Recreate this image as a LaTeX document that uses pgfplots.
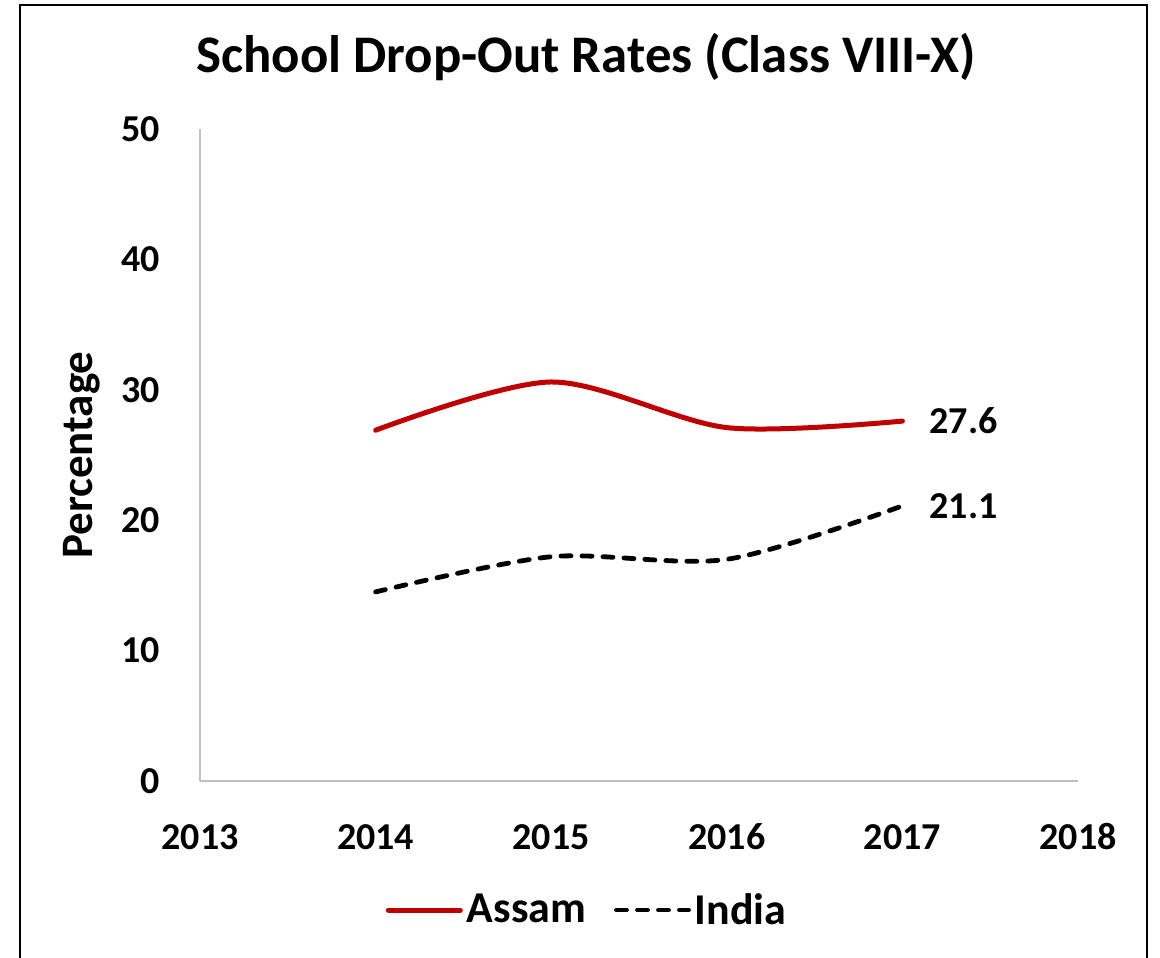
\documentclass[border=0pt]{standalone}
\usepackage{fontspec}
\setmainfont{Carlito}
\usepackage{pgfplots}
\pgfplotsset{compat=1.18}
\definecolor{assam}{HTML}{C00000}
\definecolor{axgray}{HTML}{BFBFBF}
\begin{document}
\begin{tikzpicture}[x=1pt,y=1pt]
\useasboundingbox (0,0) rectangle (580,478.5);
\draw[line width=1pt] (10,-5) -- (10,476) -- (573.5,476) -- (573.5,-5);
\node[font=\bfseries\fontsize{26.4}{30}\selectfont] at (293,450) {School Drop-Out Rates (Class VIII-X)};
\begin{axis}[
  at={(100pt,88pt)}, anchor=south west, scale only axis,
  width=439pt, height=326pt,
  xmin=2013, xmax=2018, ymin=0, ymax=50,
  xtick={2013,2014,2015,2016,2017,2018}, ytick={0,10,20,30,40,50},
  axis x line*=bottom, axis y line*=left,
  axis line style={axgray, line width=1pt},
  major tick length=0pt,
  /pgf/number format/assume math mode=true,
  /pgf/number format/1000 sep={},
  x tick label style={font=\bfseries\fontsize{19}{22}\selectfont, anchor=base, yshift=-34pt},
  y tick label style={font=\bfseries\fontsize{19}{22}\selectfont, anchor=east, inner sep=0pt, xshift=-20pt},
  ylabel={Percentage},
  ylabel style={font=\bfseries\fontsize{22.5}{26}\selectfont, at={(axis description cs:-0.1344,0.5)}, anchor=center},
  legend style={at={(axis description cs:0.442,-0.198)}, anchor=center, draw=none,
    font=\bfseries\fontsize{22}{25}\selectfont, legend columns=2,
    /tikz/every even column/.append style={column sep=12pt}},
  legend image code/.code={\draw[#1] (0pt,0pt) -- (36pt,0pt);},
  clip=false,
]
\addplot[assam, line width=2.5pt, smooth, line cap=round] coordinates {(2014,26.9) (2015,30.6) (2016,27.1) (2017,27.6)};
\addplot[black, line width=2.4pt, smooth, line cap=round, dash pattern=on 5pt off 5.5pt] coordinates {(2014,14.5) (2015,17.2) (2016,17.0) (2017,21.1)};
\legend{Assam, India}
\node[anchor=west, font=\bfseries\fontsize{19}{22}\selectfont, xshift=10pt] at (axis cs:2017,27.6) {27.6};
\node[anchor=west, font=\bfseries\fontsize{19}{22}\selectfont, xshift=10pt] at (axis cs:2017,21.1) {21.1};
\end{axis}
\end{tikzpicture}
\end{document}
